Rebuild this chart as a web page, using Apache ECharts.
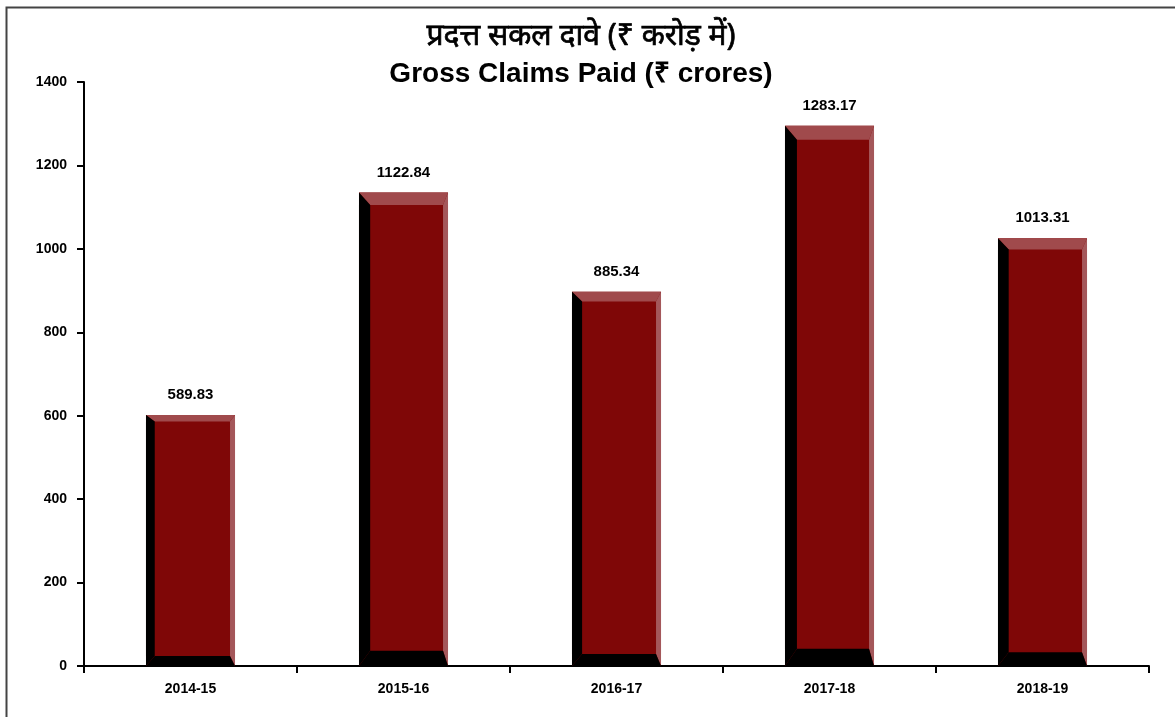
<!DOCTYPE html>
<html>
<head>
<meta charset="utf-8">
<script src="https://cdn.jsdelivr.net/npm/echarts@6/dist/echarts.min.js"></script>
<style>
html,body{margin:0;padding:0;background:#fff;}
#chart{width:1175px;height:717px;}
</style>
</head>
<body>
<div id="chart"></div>
<script>
const categories = ['2014-15', '2015-16', '2016-17', '2017-18', '2018-19'];
const grossClaims = [589.83, 1122.84, 885.34, 1283.17, 1013.31];
const titleHindi = 'प्रदत्त सकल दावे (₹ करोड़ में)';
const titleEnglish = 'Gross Claims Paid (₹ crores)';

const chart = echarts.init(document.getElementById('chart'), null, {renderer: 'canvas'});
const BODY = '#7f0707';
const LIGHT = '#a04a4c';
const DARK = '#000000';

function renderBar(params, api) {
  const idx = api.value(0);
  const val = api.value(1);
  const top = api.coord([idx, val]);
  const bot = api.coord([idx, 0]);
  const band = api.size([1, 0])[0];
  const w = band * 0.418;
  const x0 = top[0] - w / 2, x1 = top[0] + w / 2;
  const y0 = top[1] - 5, y1 = bot[1];
  const h = y1 - y0;
  const t = Math.max(6, h * 0.026);
  const b = Math.max(10, h * 0.032);
  const l = 6 + h * 0.011;
  const r = 5;
  return {
    type: 'group',
    children: [
      {type: 'rect', shape: {x: x0, y: y0, width: w, height: h}, style: {fill: BODY}},
      {type: 'polygon', shape: {points: [[x0, y0], [x1, y0], [x1 - r, y0 + t], [x0 + l, y0 + t]]}, style: {fill: LIGHT}},
      {type: 'polygon', shape: {points: [[x1, y0], [x1, y1], [x1 - r, y1 - b], [x1 - r, y0 + t]]}, style: {fill: '#a4575a'}},
      {type: 'polygon', shape: {points: [[x0, y0], [x0 + l, y0 + t], [x0 + l, y1 - b], [x0, y1]]}, style: {fill: DARK}},
      {type: 'polygon', shape: {points: [[x0, y1], [x0 + l, y1 - b], [x1 - r, y1 - b], [x1, y1]]}, style: {fill: DARK}},
      {type: 'text', style: {
        text: val.toFixed(2), x: top[0], y: y0 - 20,
        align: 'center', verticalAlign: 'middle',
        font: 'bold 15px "Liberation Sans", Arial, sans-serif', fill: '#000'
      }}
    ]
  };
}

const option = {
  backgroundColor: '#fff',
  animation: false,
  graphic: [
    {type: 'rect', left: 4, top: 5, shape: {x: 0, y: 0, width: 1250, height: 800},
     style: {fill: 'none', stroke: '#444', lineWidth: 2}, z: 100},
    {type: 'text', x: 581, y: 36, style: {
      text: titleHindi, align: 'center', verticalAlign: 'middle',
      font: 'normal 30px "Noto Sans", "Liberation Sans", Arial, sans-serif', fill: '#000',
      stroke: '#000', lineWidth: 0.7
    }},
    {type: 'text', x: 581, y: 74, style: {
      text: titleEnglish, align: 'center', verticalAlign: 'middle',
      font: 'bold 28px "Liberation Sans", Arial, sans-serif', fill: '#000'
    }}
  ],
  grid: {left: 84, right: 26, top: 82, bottom: 51, containLabel: false},
  xAxis: {
    type: 'category',
    data: categories,
    axisLine: {lineStyle: {color: '#000', width: 2}},
    axisTick: {show: true, length: 7, lineStyle: {color: '#000', width: 2}},
    axisLabel: {margin: 16, color: '#000', fontWeight: 'bold', fontSize: 14, fontFamily: '"Liberation Sans", Arial, sans-serif'}
  },
  yAxis: {
    type: 'value',
    min: 0, max: 1400, interval: 200,
    splitLine: {show: false},
    axisLine: {show: true, lineStyle: {color: '#000', width: 2}},
    axisTick: {show: true, length: 7, lineStyle: {color: '#000', width: 2}},
    axisLabel: {margin: 17, color: '#000', fontWeight: 'bold', fontSize: 14,
      fontFamily: '"Liberation Sans", Arial, sans-serif', formatter: v => String(v)}
  },
  series: [{
    type: 'custom',
    renderItem: renderBar,
    encode: {x: 0, y: 1},
    data: grossClaims.map((v, i) => [i, v])
  }]
};
chart.setOption(option);
</script>
</body>
</html>
